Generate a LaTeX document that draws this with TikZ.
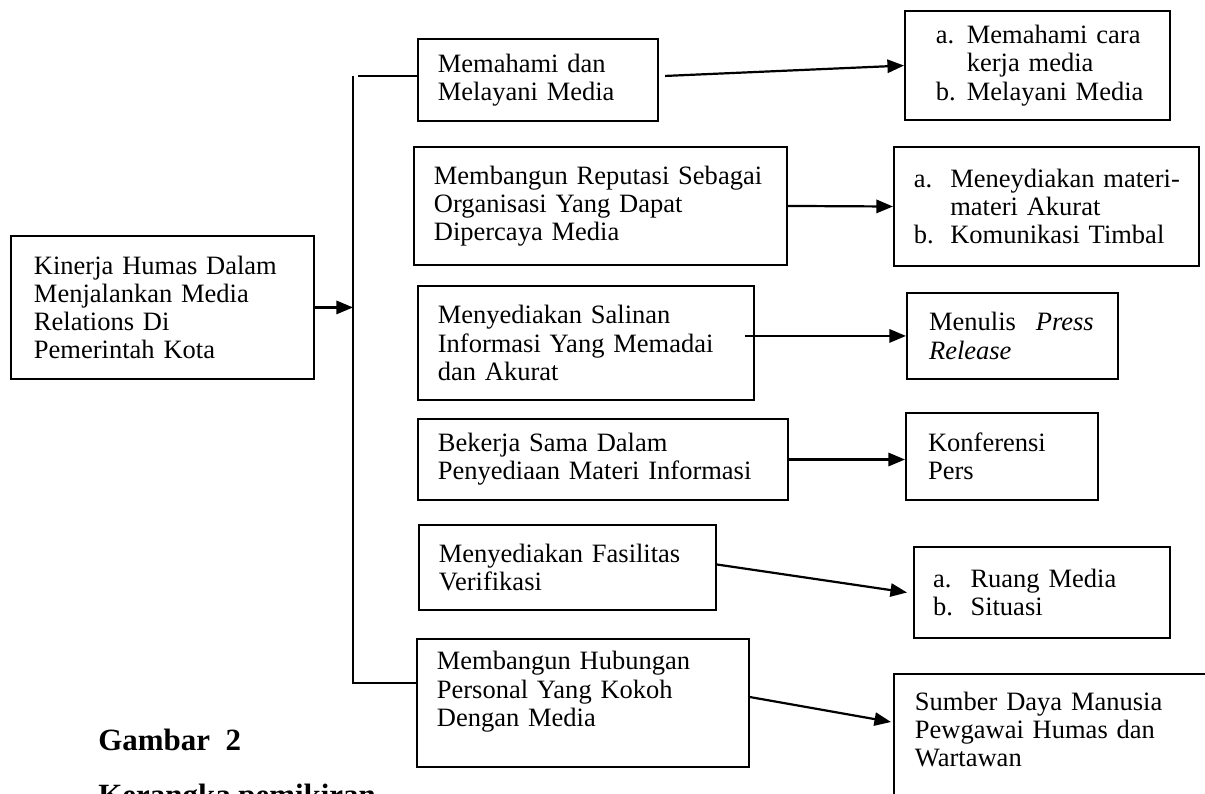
\documentclass[tikz,border=0pt]{standalone}
\usepackage{fontspec}
\setmainfont{Liberation Serif}
\usetikzlibrary{arrows.meta, calc}
\newcommand{\itemline}[3][16pt]{\leavevmode\hbox to #1{#2\hfil}\mbox{#3}}

\begin{document}
\begin{tikzpicture}[x=0.4528pt, y=-0.4528pt,
	box/.style={draw, line width=0.9pt, anchor=north west, align=left, inner xsep=9pt, inner ysep=2pt, font=\fontsize{12}{12.8}\selectfont},
	arr/.style={line width=1pt, -{Triangle[length=7.5pt, width=6pt]}},
	bus/.style={line width=1pt},
	caption/.style={anchor=base west, inner sep=0pt, font=\fontsize{14}{16}\selectfont\bfseries}]
	\useasboundingbox (0, 0) rectangle (1205, 794);
	\node[box, inner xsep=10.4pt, text width=116.4pt, minimum height=64.7pt] (kinerja) at (10, 235) {Kinerja Humas Dalam\\Menjalankan Media\\Relations Di\\Pemerintah Kota};
	\node[box, text width=90.7pt, minimum height=37.1pt] (memahami) at (417, 38) {Memahami dan\\Melayani Media\\[3pt]};
	\node[box, text width=150.9pt, minimum height=53.4pt] (reputasi) at (413, 146) {Membangun Reputasi Sebagai\\Organisasi Yang Dapat\\Dipercaya Media};
	\node[box, text width=134.1pt, minimum height=51.6pt] (salinan) at (417, 285) {Menyediakan Salinan\\Informasi Yang Memadai\\dan Akurat};
	\node[box, text width=149.5pt, minimum height=36.7pt] (kerjasama) at (417, 418) {Bekerja Sama Dalam\\Penyediaan Materi Informasi};
	\node[box, text width=116.5pt, minimum height=38.5pt] (fasilitas) at (418, 524) {Menyediakan Fasilitas\\Verifikasi};
	\node[box, text width=132.3pt, minimum height=58pt] (hubungan) at (416, 638) {Membangun Hubungan\\Personal Yang Kokoh\\Dengan Media\\\mbox{}};
	\node[box, inner xsep=14pt, text width=92pt, minimum height=49.4pt] (carakerja) at (904, 10) {\itemline[14pt]{a.}{Memahami cara}\\\itemline[14pt]{}{kerja media}\\\itemline[14pt]{b.}{Melayani Media}};
	\node[box, text width=120.1pt, minimum height=53.9pt] (materi) at (893, 146) {\itemline[16.5pt]{a.}{Meneydiakan materi-}\\\itemline[16.5pt]{}{materi Akurat}\\\itemline[16.5pt]{b.}{Komunikasi Timbal}};
	\node[box, inner xsep=10pt, text width=75.5pt, minimum height=38.9pt] (press) at (906, 292) {Menulis\hspace{9pt}\textit{Press}\\\textit{Release}};
	\node[box, inner xsep=10pt, text width=66.9pt, minimum height=39.4pt] (konferensi) at (905, 412) {Konferensi\\Pers};
	\node[box, inner xsep=8.6pt, text width=98.7pt, minimum height=41.2pt] (ruang) at (913, 546) {\itemline[17pt]{a.}{Ruang Media}\\\itemline[17pt]{b.}{Situasi}};
	\node[box, inner xsep=9.5pt, inner ysep=8pt, text width=162pt] (sdm) at (893, 673) {Sumber Daya Manusia\\Pewgawai Humas dan\\Wartawan\\\mbox{}\\\mbox{}};
	\node[caption] (gambar) at (98, 750) {Gambar\ \ 2};
	\node[caption] (kerangka) at (98, 805) {Kerangka pemikiran};
	\coordinate (bustop) at (353, 76);
	\coordinate (busbot) at (353, 683);
	\draw[arr] (kinerja.east) -- (kinerja.east -| bustop);
	\draw[bus] (bustop) -- (busbot) -- (busbot -| hubungan.west);
	\draw[bus] ([shift={(5, 0)}]bustop) -- (bustop -| memahami.west);
	\draw[arr] ([shift={(6, -4)}]memahami.east) -- (carakerja.west);
	\draw[arr] (reputasi.east) -- (materi.west);
	\draw[arr] ($(salinan.east |- press.west) + (-10, 0)$) -- (press.west);
	\draw[arr] (kerjasama.east) -- (kerjasama.east -| konferensi.west);
	\draw[arr] ([shift={(0, -3)}]fasilitas.east) -- ([shift={(-6, 0)}]ruang.west);
	\draw[arr] ([shift={(0, -6)}]hubungan.east) -- ([shift={(-2, 49)}]sdm.north west);
\end{tikzpicture}
\end{document}
